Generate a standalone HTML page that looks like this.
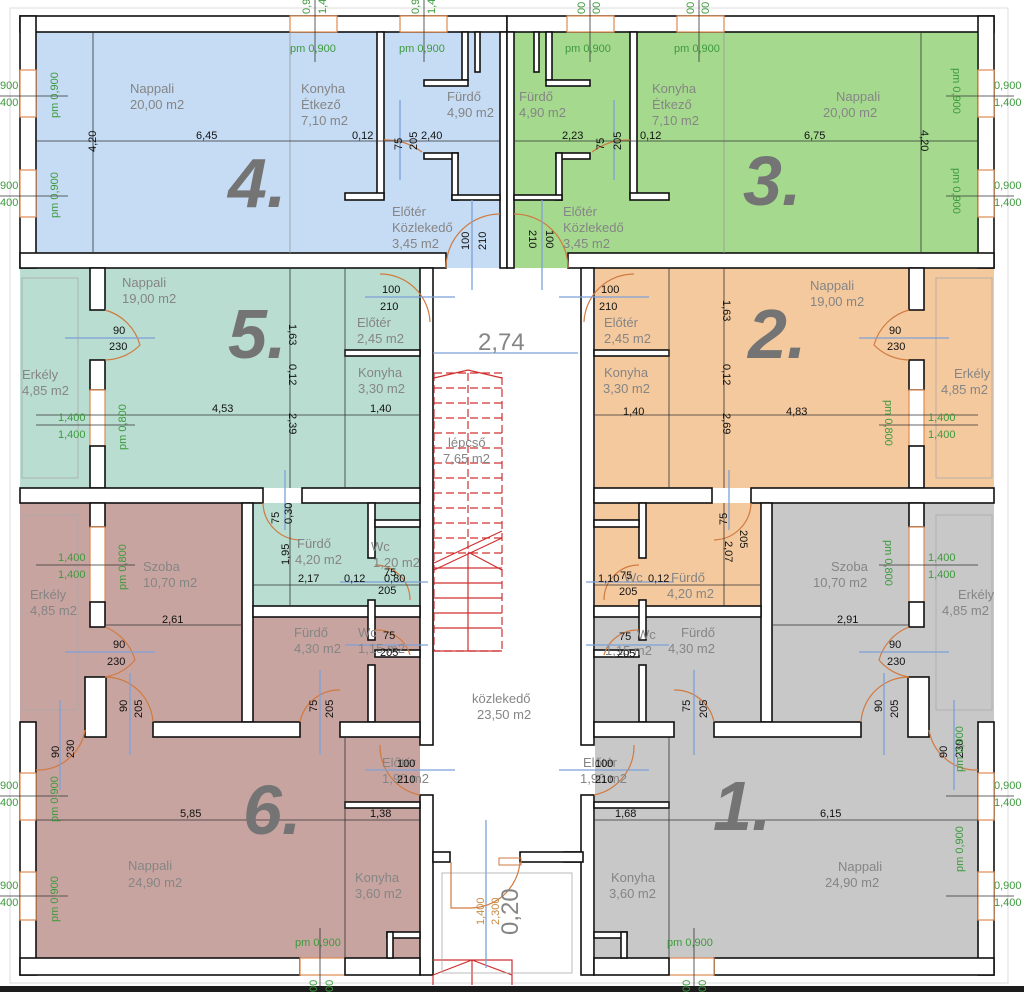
<!DOCTYPE html>
<html><head><meta charset="utf-8"><style>
html,body{margin:0;padding:0;background:#fff;}
svg{display:block;font-family:"Liberation Sans",sans-serif;}
.r{fill:#858585;font-size:13px;}
.d{fill:#111;font-size:11px;}
.g{fill:#3d9a3d;font-size:11px;}
.big{fill:#747474;font-size:70px;font-weight:bold;font-style:italic;}
.w{fill:#fff;stroke:#111;stroke-width:1.6;}
.win{fill:#fff;stroke:#e08a50;stroke-width:1.2;}
.arc{fill:none;stroke:#d07a40;stroke-width:1.2;}
.bl{stroke:#7da0d8;stroke-width:1.3;}
.dm{stroke:#333;stroke-width:0.8;}
.st{stroke:#d03030;stroke-width:1.2;fill:none;}
</style></head><body>
<svg width="1024" height="992" viewBox="0 0 1024 992" xmlns="http://www.w3.org/2000/svg">
<!-- faint frame -->
<rect x="10" y="8" width="998" height="975" fill="none" stroke="#ddd" stroke-width="1"/>
<!-- fills -->
<rect x="36" y="32" width="464" height="221" fill="#c6dcf4"/>
<rect x="446" y="253" width="54" height="15" fill="#c6dcf4"/>
<rect x="514" y="32" width="463" height="221" fill="#a5da8e"/>
<rect x="514" y="253" width="53" height="15" fill="#a5da8e"/>
<rect x="20" y="268" width="400" height="220" fill="#b9ddd0"/>
<rect x="20" y="503" width="400" height="455" fill="#c8a4a0"/>
<rect x="253" y="503" width="167" height="104" fill="#b9ddd0"/>
<rect x="595" y="503" width="399" height="455" fill="#c8c8c8"/>
<rect x="595" y="268" width="399" height="220" fill="#f4c99e"/>
<rect x="595" y="503" width="166" height="104" fill="#f4c99e"/>

<!-- left half walls (mirrored for right) -->
<g id="L">
<rect class="w" x="20" y="16" width="487" height="16"/>
<rect class="w" x="20" y="16" width="16" height="252"/>
<rect class="win" x="20" y="70" width="16" height="47"/>
<rect class="win" x="20" y="170" width="16" height="47"/>
<rect class="win" x="290" y="16" width="47" height="16"/>
<rect class="win" x="400" y="16" width="47" height="16"/>
<rect class="w" x="20" y="253" width="426" height="15"/>
<rect class="w" x="500" y="32" width="7" height="236"/>
<rect class="w" x="377" y="32" width="7" height="166"/>
<rect class="w" x="345" y="193" width="39" height="7"/>
<rect class="w" x="462" y="32" width="6" height="48"/>
<rect class="w" x="424" y="80" width="44" height="6"/>
<rect class="w" x="424" y="153" width="34" height="6"/>
<rect class="w" x="452" y="153" width="6" height="47"/>
<rect class="w" x="452" y="195" width="48" height="5"/>
<rect class="w" x="475" y="32" width="5" height="40"/>
<!-- middle -->
<rect class="w" x="90" y="268" width="15" height="42"/>
<rect class="w" x="90" y="360" width="15" height="30"/>
<rect class="win" x="90" y="390" width="15" height="56"/>
<rect class="w" x="90" y="446" width="15" height="42"/>
<rect class="w" x="420" y="268" width="13" height="477"/>
<rect class="w" x="420" y="795" width="13" height="180"/>
<rect class="w" x="345" y="350" width="75" height="6"/>
<rect class="w" x="20" y="488" width="243" height="15"/>
<rect class="w" x="302" y="488" width="118" height="15"/>
<rect class="w" x="242" y="503" width="11" height="219"/>
<rect class="w" x="253" y="606" width="167" height="11"/>
<rect class="w" x="368" y="503" width="7" height="55"/>
<rect class="w" x="375" y="520" width="45" height="7"/>
<rect class="w" x="368" y="600" width="7" height="40"/>
<rect class="w" x="368" y="665" width="7" height="57"/>
<rect class="w" x="375" y="650" width="45" height="7"/>
<rect class="w" x="90" y="503" width="15" height="24"/>
<rect class="win" x="90" y="527" width="15" height="75"/>
<rect class="w" x="90" y="602" width="15" height="25"/>
<rect class="w" x="85" y="677" width="21" height="60"/>
<rect class="w" x="153" y="722" width="147" height="15"/>
<rect class="w" x="340" y="722" width="80" height="15"/>
<rect class="w" x="20" y="722" width="16" height="253"/>
<rect class="win" x="20" y="773" width="16" height="47"/>
<rect class="win" x="20" y="872" width="16" height="48"/>
<rect class="w" x="20" y="958" width="280" height="17"/>
<rect class="win" x="300" y="958" width="45" height="17"/>
<rect class="w" x="345" y="958" width="75" height="17"/>
<rect class="w" x="345" y="802" width="75" height="6"/>
<rect class="w" x="387" y="932" width="33" height="6"/>
<rect class="w" x="387" y="932" width="6" height="26"/>
<rect class="w" x="433" y="852" width="17" height="10"/>
<!-- thin lines -->
<line class="dm" x1="345" y1="268" x2="345" y2="488"/>
<line class="dm" x1="345" y1="737" x2="345" y2="958"/>
<line x1="290" y1="32" x2="290" y2="253" stroke="#999" stroke-width="0.8"/>
<rect x="22" y="278" width="56" height="200" fill="none" stroke="#aaa" stroke-width="0.8"/>
<rect x="22" y="515" width="56" height="195" fill="none" stroke="#aaa" stroke-width="0.8"/>
<!-- doors -->
<path class="arc" d="M384 140 A60 60 0 0 1 422 152"/>
<path class="arc" d="M446 268 A54 54 0 0 1 500 214"/>
<path class="arc" d="M380 274 A50 50 0 0 1 430 322"/>
<path class="arc" d="M105 310 A50 50 0 0 1 140 345 A50 50 0 0 1 105 360"/>
<path class="arc" d="M263 503 A38 38 0 0 0 300 540"/>
<path class="arc" d="M105 627 A50 50 0 0 1 135 660 A50 50 0 0 1 105 677"/>
<path class="arc" d="M105 677 A48 48 0 0 1 153 722"/>
<path class="arc" d="M36 770 A48 48 0 0 0 85 730"/>
<path class="arc" d="M300 722 A40 40 0 0 1 340 690"/>
<path class="arc" d="M380 745 A50 50 0 0 0 420 795"/>
<path class="arc" d="M375 630 A35 35 0 0 1 410 655"/>
<path class="arc" d="M375 565 A35 35 0 0 1 410 600"/>
<line class="bl" x1="400" y1="100" x2="400" y2="180"/>
<line class="bl" x1="472" y1="200" x2="472" y2="290"/>
<line class="bl" x1="365" y1="297" x2="455" y2="297"/>
<line class="bl" x1="65" y1="338" x2="155" y2="338"/>
<line class="bl" x1="65" y1="652" x2="155" y2="652"/>
<line class="bl" x1="130" y1="673" x2="130" y2="755"/>
<line class="bl" x1="60" y1="700" x2="60" y2="790"/>
<line class="bl" x1="320" y1="670" x2="320" y2="755"/>
<line class="bl" x1="365" y1="770" x2="455" y2="770"/>
<line class="bl" x1="345" y1="645" x2="428" y2="645"/>
<line class="bl" x1="340" y1="582" x2="428" y2="582"/>
<line class="bl" x1="285" y1="470" x2="285" y2="530"/>
<!-- dim lines -->
<line class="dm" x1="36" y1="141" x2="500" y2="141"/>
<line class="dm" x1="93" y1="32" x2="93" y2="253"/>
<line class="dm" x1="36" y1="415" x2="420" y2="415"/>
<line class="dm" x1="290" y1="268" x2="290" y2="488"/>
<line class="dm" x1="253" y1="585" x2="420" y2="585"/>
<line class="dm" x1="290" y1="503" x2="290" y2="606"/>
<line class="dm" x1="105" y1="625" x2="242" y2="625"/>
<line class="dm" x1="36" y1="820" x2="420" y2="820"/>
<line class="dm" x1="36" y1="425" x2="135" y2="425"/>
<line class="dm" x1="36" y1="565" x2="135" y2="565"/>
<line class="dm" x1="0" y1="96" x2="68" y2="96"/>
<line class="dm" x1="0" y1="196" x2="68" y2="196"/>
<line class="dm" x1="0" y1="796" x2="68" y2="796"/>
<line class="dm" x1="0" y1="896" x2="68" y2="896"/>
<line class="dm" x1="315" y1="0" x2="315" y2="62"/>
<line class="dm" x1="424" y1="0" x2="424" y2="62"/>
<line class="dm" x1="320" y1="928" x2="320" y2="992"/>
</g>
<use href="#L" transform="matrix(-1 0 0 1 1014 0)"/>

<!-- stairs -->
<g class="st">
<rect x="434" y="373" width="68" height="278" stroke-dasharray="8 4"/>
<path d="M434 388H502M434 403H502M434 418H502M434 433H502M434 448H502M434 463H502M434 478H502M434 493H502M434 508H502M434 523H502M434 538H502M434 553H502" stroke-dasharray="8 4"/>
<path d="M468 373V560" stroke-dasharray="8 4"/>
<path d="M434 568H502M434 583H502M434 598H502M434 613H502M434 628H502M468 560V651M434 651H502"/>
<path d="M434 570L502 538M434 563L502 531M468 552L502 570M434 378L468 370L502 378"/>
<path d="M433 975V985M433 960H512L512 985M433 975L472 960L512 975M472 960V985"/>
</g>
<line class="bl" x1="433" y1="353" x2="578" y2="353"/>
<line class="bl" x1="486" y1="820" x2="486" y2="968"/>
<rect x="442" y="873" width="130" height="100" fill="none" stroke="#aaa" stroke-width="0.8"/>
<rect class="w" x="520" y="852" width="63" height="10"/>
<path class="arc" d="M451 862V908H470A50 50 0 0 0 520 862"/>
<rect x="499" y="858" width="22" height="7" fill="none" stroke="#d07a40"/>
<text class="r" x="478" y="350" style="font-size:24px">2,74</text>
<text class="r" transform="translate(518,935) rotate(-90)" style="font-size:24px">0,20</text>
<text transform="translate(484,925) rotate(-90)" fill="#c88a40" font-size="11">1,400</text>
<text transform="translate(499,925) rotate(-90)" fill="#c88a40" font-size="11">2,300</text>
<text class="r" x="448" y="447">lépcső</text><text class="r" x="443" y="463">7,65 m2</text>
<text class="r" x="472" y="703">közlekedő</text><text class="r" x="477" y="719">23,50 m2</text>

<rect x="0" y="986" width="1024" height="6" fill="#1c1c1c"/>

<!-- big numbers -->
<text class="big" x="228" y="207">4.</text>
<text class="big" x="743" y="205">3.</text>
<text class="big" x="228" y="358">5.</text>
<text class="big" x="748" y="358">2.</text>
<text class="big" x="243" y="834">6.</text>
<text class="big" x="713" y="830">1.</text>

<!-- unit 4 -->
<text class="r" x="130" y="93">Nappali</text><text class="r" x="130" y="109">20,00 m2</text>
<text class="r" x="301" y="93">Konyha</text><text class="r" x="301" y="109">Étkező</text><text class="r" x="301" y="125">7,10 m2</text>
<text class="r" x="447" y="101">Fürdő</text><text class="r" x="447" y="117">4,90 m2</text>
<text class="r" x="392" y="216">Előtér</text><text class="r" x="392" y="232">Közlekedő</text><text class="r" x="392" y="248">3,45 m2</text>
<text class="g" x="290" y="52">pm 0,900</text><text class="g" x="399" y="52">pm 0,900</text>
<text class="d" x="196" y="139">6,45</text><text class="d" x="352" y="139">0,12</text><text class="d" x="421" y="139">2,40</text>
<text class="d" transform="translate(96,152) rotate(-90)">4,20</text>
<text class="d" transform="translate(402,150) rotate(-90)">75</text><text class="d" transform="translate(417,150) rotate(-90)">205</text>
<text class="d" transform="translate(469,250) rotate(-90)">100</text><text class="d" transform="translate(486,250) rotate(-90)">210</text>
<text class="g" transform="translate(58,118) rotate(-90)">pm 0,900</text><text class="g" transform="translate(58,218) rotate(-90)">pm 0,900</text>
<text class="g" x="0" y="89">900</text><text class="g" x="0" y="106">400</text><text class="g" x="0" y="189">900</text><text class="g" x="0" y="206">400</text>
<text class="g" transform="translate(310,14) rotate(-90)">0,9</text><text class="g" transform="translate(326,14) rotate(-90)">1,4</text>
<text class="g" transform="translate(419,14) rotate(-90)">0,9</text><text class="g" transform="translate(435,14) rotate(-90)">1,4</text>
<text class="g" transform="translate(585,14) rotate(-90)">00</text><text class="g" transform="translate(600,14) rotate(-90)">00</text>
<text class="g" transform="translate(694,14) rotate(-90)">00</text><text class="g" transform="translate(709,14) rotate(-90)">00</text>

<!-- unit 3 -->
<text class="r" x="519" y="101">Fürdő</text><text class="r" x="519" y="117">4,90 m2</text>
<text class="r" x="652" y="93">Konyha</text><text class="r" x="652" y="109">Étkező</text><text class="r" x="652" y="125">7,10 m2</text>
<text class="r" x="836" y="101">Nappali</text><text class="r" x="823" y="117">20,00 m2</text>
<text class="r" x="563" y="216">Előtér</text><text class="r" x="563" y="232">Közlekedő</text><text class="r" x="563" y="248">3,45 m2</text>
<text class="g" x="565" y="52">pm 0,900</text><text class="g" x="674" y="52">pm 0,900</text>
<text class="d" x="562" y="139">2,23</text><text class="d" x="640" y="139">0,12</text><text class="d" x="804" y="139">6,75</text>
<text class="d" transform="translate(921,130) rotate(90)">4,20</text>
<text class="d" transform="translate(604,150) rotate(-90)">75</text><text class="d" transform="translate(621,150) rotate(-90)">205</text>
<text class="d" transform="translate(529,230) rotate(90)">210</text><text class="d" transform="translate(546,230) rotate(90)">100</text>
<text class="g" transform="translate(953,68) rotate(90)">pm 0,900</text><text class="g" transform="translate(953,168) rotate(90)">pm 0,900</text>
<text class="g" x="994" y="89">0,900</text><text class="g" x="994" y="106">1,400</text><text class="g" x="994" y="189">0,900</text><text class="g" x="994" y="206">1,400</text>

<!-- unit 5 -->
<text class="r" x="122" y="287">Nappali</text><text class="r" x="122" y="303">19,00 m2</text>
<text class="r" x="357" y="327">Előtér</text><text class="r" x="357" y="343">2,45 m2</text>
<text class="r" x="358" y="377">Konyha</text><text class="r" x="358" y="393">3,30 m2</text>
<text class="r" x="22" y="379">Erkély</text><text class="r" x="22" y="395">4,85 m2</text>
<text class="d" x="113" y="334">90</text><text class="d" x="109" y="350">230</text>
<text class="d" x="382" y="293">100</text><text class="d" x="380" y="310">210</text>
<text class="d" transform="translate(289,324) rotate(90)">1,63</text>
<text class="d" transform="translate(289,364) rotate(90)">0,12</text>
<text class="d" transform="translate(289,413) rotate(90)">2,39</text>
<text class="d" x="212" y="412">4,53</text><text class="d" x="370" y="412">1,40</text>
<text class="g" x="58" y="421">1,400</text><text class="g" x="58" y="438">1,400</text>
<text class="g" transform="translate(126,450) rotate(-90)">pm 0,800</text>
<!-- lower teal -->
<text class="r" x="297" y="548">Fürdő</text><text class="r" x="295" y="564">4,20 m2</text>
<text class="r" x="371" y="551">Wc</text><text class="r" x="373" y="567">1,20 m2</text>
<text class="d" x="298" y="582">2,17</text><text class="d" x="344" y="582">0,12</text><text class="d" x="384" y="582">0,80</text>
<text class="d" x="378" y="594">205</text><text class="d" x="384" y="576">75</text>
<text class="d" transform="translate(289,565) rotate(-90)">1,95</text>
<text class="d" transform="translate(279,524) rotate(-90)">75</text><text class="d" transform="translate(292,524) rotate(-90)">0,30</text>

<!-- unit 6 -->
<text class="r" x="143" y="571">Szoba</text><text class="r" x="143" y="587">10,70 m2</text>
<text class="r" x="30" y="599">Erkély</text><text class="r" x="30" y="615">4,85 m2</text>
<text class="g" x="58" y="561">1,400</text><text class="g" x="58" y="578">1,400</text>
<text class="g" transform="translate(126,590) rotate(-90)">pm 0,800</text>
<text class="d" x="162" y="623">2,61</text>
<text class="d" x="113" y="648">90</text><text class="d" x="107" y="665">230</text>
<text class="r" x="294" y="637">Fürdő</text><text class="r" x="294" y="653">4,30 m2</text>
<text class="r" x="358" y="637">Wc</text><text class="r" x="358" y="653">1,15 m2</text>
<text class="d" x="383" y="639">75</text><text class="d" x="380" y="656">205</text>
<text class="d" transform="translate(127,712) rotate(-90)">90</text><text class="d" transform="translate(142,718) rotate(-90)">205</text>
<text class="d" transform="translate(59,758) rotate(-90)">90</text><text class="d" transform="translate(74,758) rotate(-90)">230</text>
<text class="d" transform="translate(317,712) rotate(-90)">75</text><text class="d" transform="translate(333,718) rotate(-90)">205</text>
<text class="r" x="382" y="767">Előtér</text><text class="r" x="382" y="783">1,90 m2</text>
<text class="d" x="397" y="767">100</text><text class="d" x="397" y="783">210</text>
<text class="d" x="180" y="817">5,85</text><text class="d" x="370" y="817">1,38</text>
<text class="r" x="128" y="870">Nappali</text><text class="r" x="128" y="887">24,90 m2</text>
<text class="r" x="355" y="882">Konyha</text><text class="r" x="355" y="898">3,60 m2</text>
<text class="g" transform="translate(58,822) rotate(-90)">pm 0,900</text><text class="g" transform="translate(58,922) rotate(-90)">pm 0,900</text>
<text class="g" x="0" y="789">900</text><text class="g" x="0" y="806">400</text><text class="g" x="0" y="889">900</text><text class="g" x="0" y="906">400</text>
<text class="g" x="295" y="946">pm 0,900</text>
<text class="g" transform="translate(317,992) rotate(-90)">00</text><text class="g" transform="translate(333,992) rotate(-90)">00</text>

<!-- unit 2 -->
<text class="r" x="810" y="290">Nappali</text><text class="r" x="810" y="306">19,00 m2</text>
<text class="d" x="601" y="293">100</text><text class="d" x="599" y="310">210</text>
<text class="r" x="604" y="327">Előtér</text><text class="r" x="604" y="343">2,45 m2</text>
<text class="r" x="604" y="377">Konyha</text><text class="r" x="603" y="393">3,30 m2</text>
<text class="d" x="889" y="334">90</text><text class="d" x="887" y="350">230</text>
<text class="r" x="954" y="378">Erkély</text><text class="r" x="941" y="394">4,85 m2</text>
<text class="d" transform="translate(723,300) rotate(90)">1,63</text>
<text class="d" transform="translate(723,364) rotate(90)">0,12</text>
<text class="d" transform="translate(723,413) rotate(90)">2,69</text>
<text class="d" x="623" y="415">1,40</text><text class="d" x="786" y="415">4,83</text>
<text class="g" x="928" y="421">1,400</text><text class="g" x="928" y="438">1,400</text>
<text class="g" transform="translate(885,400) rotate(90)">pm 0,800</text>
<!-- lower orange -->
<text class="d" transform="translate(727,525) rotate(-90)">75</text><text class="d" transform="translate(740,530) rotate(90)">205</text>
<text class="d" transform="translate(725,541) rotate(90)">2,07</text>
<text class="d" x="598" y="582">1,10</text><text class="d" x="648" y="582">0,12</text>
<text class="r" x="624" y="582">Wc</text>
<text class="r" x="671" y="582">Fürdő</text><text class="r" x="667" y="598">4,20 m2</text>
<text class="d" x="619" y="595">205</text><text class="d" x="620" y="579">75</text>
<!-- unit 1 -->
<text class="r" x="831" y="571">Szoba</text><text class="r" x="813" y="587">10,70 m2</text>
<text class="g" x="928" y="561">1,400</text><text class="g" x="928" y="578">1,400</text>
<text class="g" transform="translate(885,540) rotate(90)">pm 0,800</text>
<text class="r" x="958" y="599">Erkély</text><text class="r" x="942" y="615">4,85 m2</text>
<text class="d" x="837" y="623">2,91</text>
<text class="d" x="889" y="648">90</text><text class="d" x="887" y="665">230</text>
<text class="d" x="619" y="640">75</text><text class="r" x="637" y="639">Wc</text><text class="r" x="605" y="655">1,15 m2</text><text class="d" x="617" y="657">205</text>
<text class="r" x="681" y="637">Fürdő</text><text class="r" x="668" y="653">4,30 m2</text>
<text class="d" transform="translate(690,712) rotate(-90)">75</text><text class="d" transform="translate(707,718) rotate(-90)">205</text>
<text class="d" transform="translate(882,712) rotate(-90)">90</text><text class="d" transform="translate(898,718) rotate(-90)">205</text>
<text class="d" transform="translate(947,758) rotate(-90)">90</text><text class="d" transform="translate(963,758) rotate(-90)">230</text>
<text class="r" x="583" y="767">Előtér</text><text class="r" x="580" y="783">1,90 m2</text>
<text class="d" x="595" y="767">100</text><text class="d" x="595" y="783">210</text>
<text class="d" x="615" y="817">1,68</text><text class="d" x="820" y="817">6,15</text>
<text class="r" x="611" y="882">Konyha</text><text class="r" x="609" y="898">3,60 m2</text>
<text class="r" x="838" y="871">Nappali</text><text class="r" x="825" y="887">24,90 m2</text>
<text class="g" x="667" y="946">pm 0,900</text>
<text class="g" transform="translate(963,772) rotate(-90)">pm 0,900</text><text class="g" transform="translate(963,872) rotate(-90)">pm 0,900</text>
<text class="g" x="994" y="789">0,900</text><text class="g" x="994" y="806">1,400</text><text class="g" x="994" y="889">0,900</text><text class="g" x="994" y="906">1,400</text>
<text class="g" transform="translate(690,992) rotate(-90)">00</text><text class="g" transform="translate(706,992) rotate(-90)">00</text>
</svg>
</body></html>
